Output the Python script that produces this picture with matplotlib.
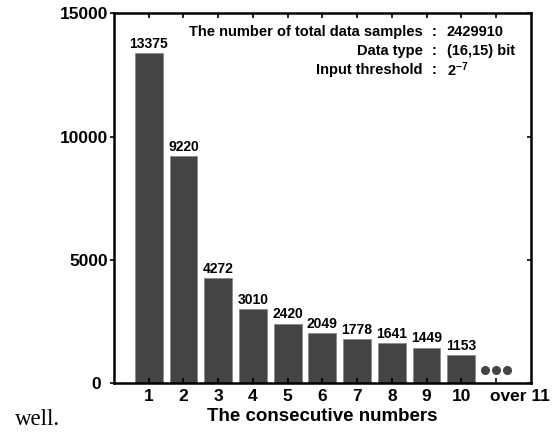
import matplotlib
matplotlib.use("Agg")
import matplotlib.pyplot as plt
import matplotlib.transforms as mtransforms
import numpy as np

# data
positions = [1, 2, 3, 4, 5, 6, 7, 8, 9, 10, 11]
tick_labels = ["1", "2", "3", "4", "5", "6", "7", "8", "9", "10", "over 11"]
counts = [13375, 9220, 4272, 3010, 2420, 2049, 1778, 1641, 1449, 1153]
info_names = ["The number of total data samples", "Data type", "Input threshold"]
info_values = ["2429910", "(16,15) bit", r"$\mathbf{2^{-7}}$"]

plt.rcParams["font.family"] = ["Liberation Sans", "DejaVu Sans"]
plt.rcParams["font.weight"] = "bold"
plt.rcParams["mathtext.fontset"] = "custom"
plt.rcParams["mathtext.bf"] = "Liberation Sans:bold"
plt.rcParams["mathtext.rm"] = "Liberation Sans:bold"

fig = plt.figure(figsize=(5.54, 4.32), dpi=100)
ax = fig.add_axes([0.2058, 0.1127, 0.7522, 0.8565])

bars = ax.bar(positions[:len(counts)], counts, width=0.8,
              color="#444444", edgecolor="#8a8a8a", linewidth=0.6)
for b, c in zip(bars, counts):
    ax.text(b.get_x() + b.get_width() / 2, c + 90, str(c),
            ha="center", va="bottom", fontsize=10, fontweight="bold")

# the "..." for over 11
ax.plot([positions[-1] - 0.31, positions[-1], positions[-1] + 0.31], [540, 540, 540],
        "o", color="#444444", markersize=5.5, linestyle="none")

ax.set_xlim(0, 12)
ax.set_ylim(0, 15000)
ax.set_xticks(positions)
ax.set_xticklabels(tick_labels)
ax.set_yticks([0, 5000, 10000, 15000])
ax.tick_params(axis="x", direction="in", top=True, length=3.5, width=1.2,
               labelsize=12.5, pad=4)
ax.tick_params(axis="y", direction="out", length=3, width=1.2,
               labelsize=12.5, pad=1)
# "over 11" sits to the right of its tick in the original
last = ax.get_xticklabels()[-1]
last.set_horizontalalignment("left")
last.set_transform(last.get_transform() +
                   mtransforms.ScaledTranslation(-6 / 100, 0, fig.dpi_scale_trans))
# the 0 label is set a bit further left
zero = ax.get_yticklabels()[0]
zero.set_transform(zero.get_transform() +
                   mtransforms.ScaledTranslation(-7 / 100, 0, fig.dpi_scale_trans))

sec = ax.secondary_yaxis("right")
sec.set_yticks([0, 5000, 10000, 15000])
sec.tick_params(direction="in", length=3, width=1.2, labelright=False)
sec.spines["right"].set_visible(False)
for s in ax.spines.values():
    s.set_linewidth(1.8)

ax.set_xlabel("The consecutive numbers", fontsize=13.5, fontweight="bold", labelpad=3)

ys = [0.949, 0.899, 0.848]
for name, val, y in zip(info_names, info_values, ys):
    ax.text(0.741, y, name, transform=ax.transAxes, ha="right", va="center",
            fontsize=10.5, fontweight="bold")
    ax.text(0.768, y, ":", transform=ax.transAxes, ha="center", va="center",
            fontsize=10.5, fontweight="bold")
    ax.text(0.798, y, val, transform=ax.transAxes, ha="left", va="center",
            fontsize=10.5, fontweight="bold")

fig.text(15 / 554, 1 - 425 / 432, "well.", family=["Liberation Serif", "DejaVu Serif"],
         fontweight="normal", fontsize=16.5, ha="left", va="baseline")

fig.savefig("out.png", dpi=100)
